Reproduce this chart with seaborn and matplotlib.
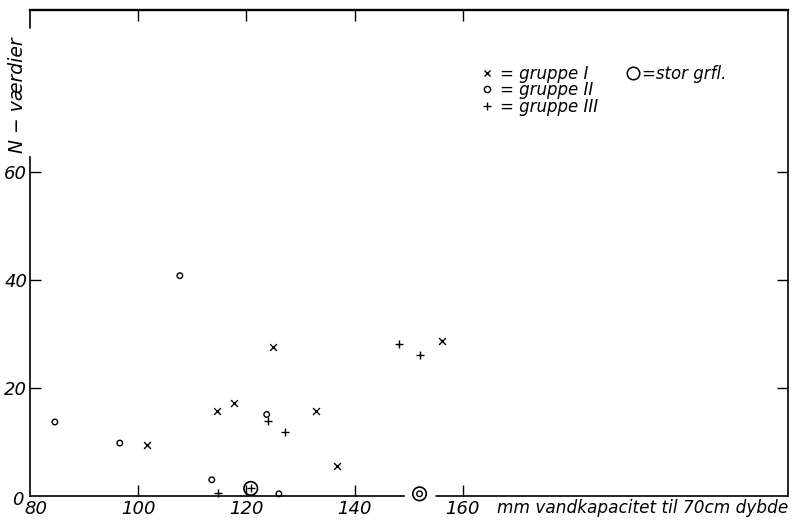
import matplotlib
matplotlib.use("Agg")
import matplotlib.pyplot as plt
import matplotlib.transforms as mtransforms
from matplotlib.lines import Line2D
import seaborn as sns
import pandas as pd

# N-værdier mod vandkapacitet, opdelt i grupper
gruppe1_x = [101.6, 114.5, 117.8, 124.9, 132.9, 136.7, 156.1]
gruppe1_y = [9.4, 15.8, 17.3, 27.6, 15.8, 5.6, 28.7]

gruppe2_x = [84.6, 96.6, 107.7, 113.6, 123.75, 126.0, 152.0]
gruppe2_y = [13.7, 9.8, 40.8, 3.0, 15.1, 0.4, 0.4]

gruppe3_x = [114.7, 120.8, 123.9, 127.1, 148.2, 152.0]
gruppe3_y = [0.5, 1.4, 13.9, 11.9, 28.1, 26.2]

# punkter med stor grovfraktion (ring om punktet)
stor_x = [120.8, 152.0]
stor_y = [1.4, 0.4]

x_ticks = [80, 100, 120, 140, 160]
y_ticks = [0, 20, 40, 60]

sns.set_theme(style="white")
plt.rcParams["font.family"] = ["DejaVu Sans"]
plt.rcParams["font.style"] = "italic"
plt.rcParams["text.color"] = "black"
plt.rcParams["axes.labelcolor"] = "black"
plt.rcParams["xtick.color"] = "black"
plt.rcParams["ytick.color"] = "black"

fig = plt.figure(figsize=(7.93, 5.21), dpi=100)
ax = fig.add_axes([0.0378, 0.048, 0.9559, 0.9328])

d1 = pd.DataFrame({"x": gruppe1_x, "y": gruppe1_y})
d2 = pd.DataFrame({"x": gruppe2_x, "y": gruppe2_y})
d3 = pd.DataFrame({"x": gruppe3_x, "y": gruppe3_y})
ds = pd.DataFrame({"x": stor_x, "y": stor_y})

sns.scatterplot(data=d1, x="x", y="y", marker="x", s=24, color="black",
                linewidth=1.0, ax=ax, clip_on=False)
sns.scatterplot(data=d2, x="x", y="y", marker="o", s=16, facecolor="none",
                edgecolor="black", linewidth=1.0, ax=ax, clip_on=False)
sns.scatterplot(data=d3, x="x", y="y", marker="+", s=32, color="black",
                linewidth=1.0, ax=ax, clip_on=False)
sns.scatterplot(data=ds, x="x", y="y", marker="o", s=95, facecolor="none",
                edgecolor="black", linewidth=1.2, ax=ax, clip_on=False)

x_max = 220.1
ax.set_xlim(80, x_max)
ax.set_ylim(0, 90)

ax.set_xticks(x_ticks)
ax.set_yticks(y_ticks)
ax.set_xticklabels([str(v) for v in x_ticks], fontsize=13)
ax.set_yticklabels([str(v) for v in y_ticks], fontsize=13)
ax.tick_params(axis="both", which="both", direction="in", length=8,
               width=1.0, color="black", bottom=True, left=True, top=True,
               right=True, labeltop=False, labelright=False,
               labelcolor="black")
ax.tick_params(axis="x", pad=3)
ax.tick_params(axis="y", pad=2)
for t in ax.xaxis.get_major_ticks()[:1] + ax.yaxis.get_major_ticks()[:1]:
    t.tick1line.set_visible(False)
    t.tick2line.set_visible(False)

# "80" lidt til højre og "0" lidt til venstre i hjørnet
ax.get_xticklabels()[0].set_transform(
    ax.get_xticklabels()[0].get_transform()
    + mtransforms.ScaledTranslation(6 / 100, 0, fig.dpi_scale_trans))
ax.get_yticklabels()[0].set_transform(
    ax.get_yticklabels()[0].get_transform()
    + mtransforms.ScaledTranslation(-4 / 100, -2 / 100, fig.dpi_scale_trans))

for side in ["top", "right", "left", "bottom"]:
    ax.spines[side].set_color("black")
    ax.spines[side].set_linewidth(1.2)
ax.spines["top"].set_linewidth(1.7)

# venstre akse afbrudt af aksetitlen, bund afbrudt ved 150
ax.spines["left"].set_bounds(0, 62.8)
ax.axvline(80, ymin=86.7 / 90, ymax=1, color="black", lw=1.2, clip_on=False)
ax.spines["bottom"].set_bounds(80, 149.1)
ax.axhline(0, xmin=(155.0 - 80) / (x_max - 80), xmax=1, color="black",
           lw=1.2, clip_on=False)

ax.set_xlabel("mm vandkapacitet til 70cm dybde", fontsize=12.2, ha="right",
              va="top")
ax.xaxis.set_label_coords(1.0, -0.006)
ax.set_ylabel("N − værdier", fontsize=13.5, va="center")
ax.yaxis.set_label_coords(-0.016, 0.825)

handles = [
    Line2D([], [], ls="none", marker="x", ms=5, mew=1.0, color="black"),
    Line2D([], [], ls="none", marker="o", ms=4.5, mew=1.0, mfc="none",
           color="black"),
    Line2D([], [], ls="none", marker="+", ms=6, mew=1.0, color="black"),
]
leg1 = ax.legend(handles, ["= gruppe I", "= gruppe II", "= gruppe III"],
                 loc="upper left", bbox_to_anchor=(0.583, 0.905),
                 frameon=False, fontsize=12, handlelength=0.8,
                 handletextpad=0.4, labelspacing=-0.08, borderpad=0)
ax.add_artist(leg1)
stor_handle = Line2D([], [], ls="none", marker="o", ms=9, mew=1.1,
                     mfc="none", color="black")
ax.legend([stor_handle], ["=stor grfl."], loc="upper left",
          bbox_to_anchor=(0.775, 0.905), frameon=False, fontsize=12,
          handlelength=0.9, handletextpad=0.1, borderpad=0)

fig.savefig("out.png", dpi=100)
